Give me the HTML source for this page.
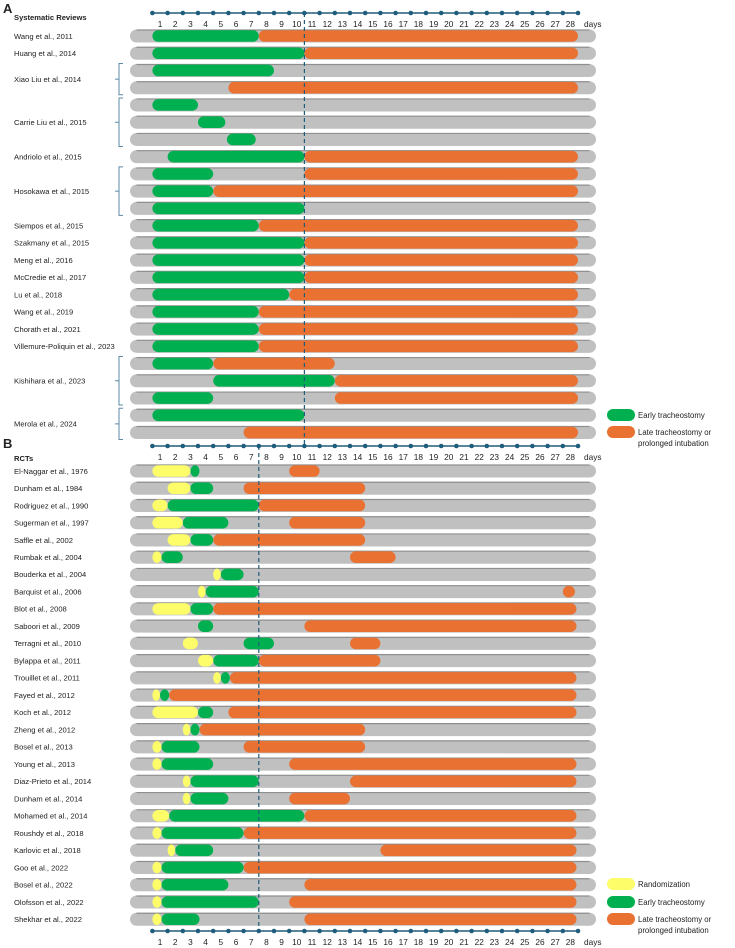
<!DOCTYPE html>
<html><head><meta charset="utf-8"><style>
html,body{margin:0;padding:0;background:#fff;}
svg{display:block;font-family:"Liberation Sans",sans-serif;}
</style></head><body>
<svg id="chart" width="735" height="948" viewBox="0 0 735 948"></svg>
<script>
// ---------- Panel A data ----------
const aLabels = ["Wang et al., 2011","Huang et al., 2014","Xiao Liu et al., 2014","Carrie Liu et al., 2015","Andriolo et al., 2015","Hosokawa et al., 2015","Siempos et al., 2015","Szakmany  et al., 2015","Meng  et al., 2016","McCredie et al., 2017","Lu et al., 2018","Wang et al., 2019","Chorath et al., 2021","Villemure-Poliquin et al., 2023","Kishihara et al., 2023","Merola et al., 2024"];
const aLabelFirstRow = [0,1,2,4,7,8,11,12,13,14,15,16,17,18,19,22];
const aLabelRowCount = [1,1,2,3,1,3,1,1,1,1,1,1,1,1,3,2];
const aGreenStart = [0.5,0.5,0.5,null,0.5,3.5,5.4,1.5,0.5,0.5,0.5,0.5,0.5,0.5,0.5,0.5,0.5,0.5,0.5,0.5,4.5,0.5,0.5,null];
const aGreenEnd   = [7.5,10.5,8.5,null,3.5,5.3,7.3,10.5,4.5,4.5,10.5,7.5,10.5,10.5,10.5,9.5,7.5,7.5,7.5,4.5,12.5,4.5,10.5,null];
const aOrangeStart= [7.5,10.5,null,5.5,null,null,null,10.5,10.5,4.5,null,7.5,10.5,10.5,10.5,9.5,7.5,7.5,7.5,4.5,12.5,12.5,null,6.5];
const aOrangeEnd  = [28.5,28.5,null,28.5,null,null,null,28.5,28.5,28.5,null,28.5,28.5,28.5,28.5,28.5,28.5,28.5,28.5,12.5,28.5,28.5,null,28.5];
const aCutoff = 10.5;
// ---------- Panel B data ----------
const bLabels = ["El-Naggar et al., 1976","Dunham et al., 1984","Rodriguez et al., 1990","Sugerman et al., 1997","Saffle et al., 2002","Rumbak et al., 2004","Bouderka et al., 2004","Barquist et al., 2006","Blot et al., 2008","Saboori et al., 2009","Terragni et al., 2010","Bylappa et al., 2011","Trouillet et al., 2011","Fayed et al., 2012","Koch et al., 2012","Zheng et al., 2012","Bosel et al., 2013","Young et al., 2013","Diaz-Prieto et al., 2014","Dunham et al., 2014","Mohamed et al., 2014","Roushdy et al., 2018","Karlovic et al., 2018","Goo et al., 2022","Bosel et al., 2022","Olofsson et al., 2022","Shekhar et al., 2022"];
const bYellowStart = [0.5,1.5,0.5,0.5,1.5,0.5,4.5,3.5,0.5,null,2.5,3.5,4.5,0.5,0.5,2.5,0.5,0.5,2.5,2.5,0.5,0.5,1.5,0.5,0.5,0.5,0.5];
const bYellowEnd   = [3.0,3.0,1.5,2.5,3.0,1.1,5.0,4.0,3.0,null,3.5,4.5,5.0,1.0,3.5,3.0,1.1,1.1,3.0,3.0,1.6,1.1,2.0,1.1,1.1,1.1,1.1];
const bGreenStart  = [3.0,3.0,1.5,2.5,3.0,1.1,5.0,4.0,3.0,3.5,6.5,4.5,5.0,1.0,3.5,3.0,1.1,1.1,3.0,3.0,1.6,1.1,2.0,1.1,1.1,1.1,1.1];
const bGreenEnd    = [3.6,4.5,7.5,5.5,4.5,2.5,6.5,7.5,4.5,4.5,8.5,7.5,5.6,1.6,4.5,3.6,3.6,4.5,7.5,5.5,10.5,6.5,4.5,6.5,5.5,7.5,3.6];
const bOrangeStart = [9.5,6.5,7.5,9.5,4.5,13.5,null,27.5,4.5,10.5,13.5,7.5,5.6,1.6,5.5,3.6,6.5,9.5,13.5,9.5,10.5,6.5,15.5,6.5,10.5,9.5,10.5];
const bOrangeEnd   = [11.5,14.5,14.5,14.5,14.5,16.5,null,28.3,28.4,28.4,15.5,15.5,28.4,28.4,28.4,14.5,14.5,28.4,28.4,13.5,28.4,28.4,28.4,28.4,28.4,28.4,28.4];
const bCutoff = 7.5;
const dayTicks = Array.from({length:28},(_,i)=>i+1);

const NS="http://www.w3.org/2000/svg";
const svg=document.getElementById('chart');
const X0=160, STEP=15.2;
function xs(d){return X0+(d-1)*STEP;}
const A_Y0=36, B_Y0=471, ROW=17.24;
function yA(r){return A_Y0+r*ROW;}
function yB(r){return B_Y0+r*ROW;}
const AX="#1f5d7c", GREEN="#00b050", ORANGE="#e97132", YELLOW="#fdfd6a", GRAY="#c0c0c0";
function el(tag,attrs,parent){const e=document.createElementNS(NS,tag);for(const k in attrs)e.setAttribute(k,attrs[k]);(parent||svg).appendChild(e);return e;}
function txt(x,y,s,size,weight,anchor,fill){const t=el('text',{x:x,y:y,'font-size':size,'font-weight':weight||'normal','text-anchor':anchor||'start',fill:fill||'#222'});t.textContent=s;return t;}

function axis(y,name){
  const g=el('g',{});
  
  
  el('line',{x1:xs(0.5),x2:xs(28.5),y1:y,y2:y,stroke:AX,'stroke-width':1.6},g);
  for(let k=0;k<=28;k++){el('circle',{cx:xs(k+0.5),cy:y,r:2.3,fill:AX},g);}
  dayTicks.forEach(d=>{const t=txt(xs(d),y+14,String(d),8.3,'normal','middle','#222');g.appendChild(t);});
  const t=txt(xs(28.5)+6,y+14,'days',8.3,'normal','start','#222');g.appendChild(t);
}
function grayBar(y,name){
  const g=el('g',{});
  
  
  el('rect',{x:130,y:y-6.5,width:466,height:13,rx:6.5,fill:GRAY},g);
  el('path',{d:`M136.5 ${y-6} H589.5`,stroke:'#8f8f8f','stroke-width':1.2,fill:'none'},g);
  return g;
}
function seg(g,s,e,y,color,name){
  if(s==null||e==null)return;
  const r=el('rect',{x:xs(s),y:y-5.8,width:Math.max(xs(e)-xs(s),6),height:11.6,rx:5.8,fill:color},g);
  
  
}
function brace(y1,y2,name){
  const g=el('g',{});
  
  
  const ym=(y1+y2)/2;
  el('path',{d:`M123 ${y1} H119 V${y2} H123 M119 ${ym} H115`,stroke:'#5b88a6','stroke-width':1,fill:'none'},g);
}

// Titles
let t=txt(3,13,'A',13,'bold');
t=txt(14,20,'Systematic Reviews',7.6,'bold');
t=txt(3,448,'B',13,'bold');
t=txt(14,461,'RCTs',7.6,'bold');

axis(13,'panel-a-day-axis');
axis(446,'panel-b-day-axis-top');
axis(931,'panel-b-day-axis-bottom');

// Panel A bars
for(let i=0;i<aGreenStart.length;i++){
  const y=yA(i);const g=grayBar(y,'review-row-'+(i+1));
  seg(g,aOrangeStart[i],aOrangeEnd[i],y,ORANGE,'late-segment');
  seg(g,aGreenStart[i],aGreenEnd[i],y,GREEN,'early-segment');
}
aLabels.forEach((s,i)=>{
  const r0=aLabelFirstRow[i],n=aLabelRowCount[i];
  const ym=(yA(r0)+yA(r0+n-1))/2;
  const tt=txt(14,ym+2.8,s,7.6,'normal');
  
  
  if(n>1)brace(yA(r0)-7,yA(r0+n-1)+7,'group-brace');
});
// Panel B bars
for(let i=0;i<bGreenStart.length;i++){
  const y=yB(i);const g=grayBar(y,'rct-row-'+(i+1));
  seg(g,bOrangeStart[i],bOrangeEnd[i],y,ORANGE,'late-segment');
  seg(g,bGreenStart[i],bGreenEnd[i],y,GREEN,'early-segment');
  seg(g,bYellowStart[i],bYellowEnd[i],y,YELLOW,'randomization-segment');
  const tt=txt(14,y+2.8,bLabels[i],7.6,'normal');
  
  
}
// cutoff lines
let l=el('line',{x1:xs(aCutoff),x2:xs(aCutoff),y1:13,y2:446,stroke:AX,'stroke-width':1.2,'stroke-dasharray':'4,3'});

l=el('line',{x1:xs(bCutoff),x2:xs(bCutoff),y1:446,y2:931,stroke:AX,'stroke-width':1.2,'stroke-dasharray':'4,3'});


// legends
function legend(y,color,lines,name){
  const g=el('g',{});
  
  
  el('rect',{x:607,y:y-6,width:28,height:12,rx:6,fill:color},g);
  lines.forEach((s,k)=>{const tt=txt(638,y+3+k*11,s,7.8,'normal');g.appendChild(tt);});
}
legend(415,GREEN,['Early tracheostomy'],'legend-a-early');
legend(432,ORANGE,['Late  tracheostomy or','prolonged intubation'],'legend-a-late');
legend(884,YELLOW,['Randomization'],'legend-b-randomization');
legend(902,GREEN,['Early tracheostomy'],'legend-b-early');
legend(919,ORANGE,['Late  tracheostomy or','prolonged intubation'],'legend-b-late');
</script>
</body></html>
